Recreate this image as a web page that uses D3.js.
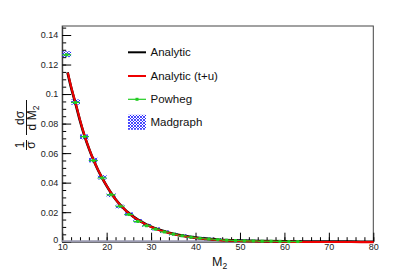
<!DOCTYPE html>
<html>
<head>
<meta charset="utf-8">
<script src="https://cdn.jsdelivr.net/npm/d3@7"></script>
<style>
  body { margin: 0; background: #fff; }
  svg { display: block; font-family: "Liberation Sans", Arial, sans-serif; }
</style>
</head>
<body>
<svg id="chart" width="415" height="270"></svg>
<script>
// bin centres (width 2) for the MC samples
var binCenters = [11, 13, 15, 17, 19, 21, 23, 25, 27, 29, 31, 33, 35, 37, 39, 41, 43, 45, 47, 49, 51, 53, 55, 57, 59, 61, 63];
var madgraphVals = [0.1270, 0.0946, 0.0710, 0.0553, 0.0436, 0.0316, 0.0238, 0.0187, 0.0141, 0.0111, 0.0087, 0.0068, 0.0052, 0.0041, 0.0031, 0.0024, 0.0019, 0.0014, 0.0011, 0.0008, 0.0006, 0.0005, 0.0004, 0.0003, 0.0002, 0.0002, 0.0001];
var madgraphErr = [0.0013, 0.0011, 0.0010, 0.0009, 0.0008, 0.0007, 0.0006, 0.0005, 0.0005, 0.0004, 0.0004, 0.0003, 0.0003, 0.0003, 0.0002, 0.0002, 0.0002, 0.0002, 0.0001, 0.0001, 0.0001, 0.0001, 0.0001, 0.0001, 0.0001, 0.0001, 0.0001];
var powhegVals = [0.1266, 0.0943, 0.0712, 0.0550, 0.0432, 0.0318, 0.0240, 0.0184, 0.0137, 0.0108, 0.0085, 0.0066, 0.0051, 0.0040, 0.0030, 0.0023, 0.0018, 0.0014, 0.0010, 0.0008, 0.0006, 0.0005, 0.0003, 0.0003, 0.0002, 0.0001, 0.0001];

// analytic curve samples
var analyticM = [11.2, 12, 13, 14, 15, 16, 17, 18, 19, 20, 21, 22, 23, 24, 25, 26, 27, 28, 29, 30, 32, 34, 36, 38, 40, 42, 44, 46, 48, 50, 55, 60, 65, 70, 75, 80];
var analyticVals = [0.1147, 0.1045, 0.0935, 0.0820, 0.0718, 0.0632, 0.0556, 0.0489, 0.0431, 0.0378, 0.0330, 0.0288, 0.0252, 0.0221, 0.0194, 0.0170, 0.0150, 0.0132, 0.0116, 0.0102, 0.0079, 0.0061, 0.0047, 0.0036, 0.0028, 0.0021, 0.0016, 0.0012, 0.0009, 0.0007, 0.0004, 0.0002, 0.0001, 0.00005, 0.00002, 0.00001];

var xTicks = [10, 20, 30, 40, 50, 60, 70, 80];
var yTicks = [0, 0.02, 0.04, 0.06, 0.08, 0.1, 0.12, 0.14];
var yTickLabels = ["0", "0.02", "0.04", "0.06", "0.08", "0.1", "0.12", "0.14"];
var legendNames = ["Analytic", "Analytic (t+u)", "Powheg", "Madgraph"];

var svg = d3.select("#chart");

var x = d3.scaleLinear().domain([10, 80]).range([62.2, 373.3]);
var y = d3.scaleLinear().domain([0, 0.1461]).range([241.7, 26]);

// hatch pattern for madgraph
var defs = svg.append("defs");
var pat = defs.append("pattern")
    .attr("id", "hatch")
    .attr("patternUnits", "userSpaceOnUse")
    .attr("width", 3).attr("height", 3);
pat.append("path").attr("d", "M0,0 L3,3 M3,0 L0,3")
    .attr("stroke", "#1a1aff").attr("stroke-width", 0.8);

// frame
svg.append("rect")
    .attr("x", x(10)).attr("y", y(0.1461))
    .attr("width", x(80) - x(10)).attr("height", y(0) - y(0.1461))
    .attr("fill", "none").attr("stroke", "#444").attr("stroke-width", 1);

// minor ticks
svg.append("g")
    .attr("transform", "translate(0," + y(0) + ")")
    .call(d3.axisBottom(x).tickValues(d3.range(10, 81, 2)).tickSize(-4.5).tickFormat(""))
    .call(function(g){ g.select(".domain").remove(); });
svg.append("g")
    .attr("transform", "translate(" + x(10) + ",0)")
    .call(d3.axisLeft(y).tickValues(d3.range(0, 0.1451, 0.005)).tickSize(-4).tickFormat(""))
    .call(function(g){ g.select(".domain").remove(); });

// major ticks + labels
var xAxis = svg.append("g")
    .attr("transform", "translate(0," + y(0) + ")")
    .call(d3.axisBottom(x).tickValues(xTicks).tickSizeInner(-9).tickSizeOuter(0).tickPadding(2).tickFormat(d3.format("d")));
xAxis.selectAll("text").attr("font-size", 9).attr("fill", "#222").attr("font-family", "Liberation Sans, Arial");

var yAxis = svg.append("g")
    .attr("transform", "translate(" + x(10) + ",0)")
    .call(d3.axisLeft(y).tickValues(yTicks).tickSizeInner(-9).tickSizeOuter(0).tickPadding(4)
      .tickFormat(function(d, i){ return yTickLabels[i]; }));
yAxis.selectAll("text").attr("font-size", 9).attr("fill", "#222").attr("font-family", "Liberation Sans, Arial");
yAxis.selectAll(".tick").filter(function(d){ return d === 0; }).select("text").attr("dy", "0.05em");
svg.selectAll(".domain").attr("stroke", "#333");

// gray band along the bottom (near-zero bins)
svg.append("line")
    .attr("x1", x(10)).attr("x2", x(64))
    .attr("y1", y(0) - 0.5).attr("y2", y(0) - 0.5)
    .attr("stroke", "#9a9ab0").attr("stroke-width", 2);

// madgraph hatched error boxes
svg.append("g").selectAll("rect")
    .data(binCenters).enter().append("rect")
    .attr("x", function(d){ return x(d - 1); })
    .attr("width", function(d){ return x(d + 1) - x(d - 1); })
    .attr("y", function(d, i){ return y(madgraphVals[i] + madgraphErr[i]) - 1; })
    .attr("height", function(d, i){ return y(madgraphVals[i] - madgraphErr[i]) - y(madgraphVals[i] + madgraphErr[i]) + 2; })
    .attr("fill", "url(#hatch)");

// analytic curves (red t+u drawn on top of black)
var line = d3.line()
    .x(function(d){ return x(d[0]); })
    .y(function(d){ return y(d[1]); })
    .curve(d3.curveMonotoneX);
var curvePts = analyticM.map(function(m, i){ return [m, analyticVals[i]]; });

svg.append("path")
    .attr("d", line(curvePts))
    .attr("fill", "none").attr("stroke", "#000").attr("stroke-width", 2.6);
svg.append("path")
    .attr("d", line(curvePts))
    .attr("fill", "none").attr("stroke", "#ee0000").attr("stroke-width", 2.1)
    .attr("stroke-dasharray", null)
    .attr("transform", "translate(0.3,0.4)");

// powheg points
var pw = svg.append("g");
pw.selectAll("line")
    .data(binCenters).enter().append("line")
    .attr("x1", function(d){ return x(d - 1); })
    .attr("x2", function(d){ return x(d + 1); })
    .attr("y1", function(d, i){ return y(powhegVals[i]); })
    .attr("y2", function(d, i){ return y(powhegVals[i]); })
    .attr("stroke", "#22cc22").attr("stroke-width", 1.2);
pw.selectAll("rect")
    .data(binCenters).enter().append("rect")
    .attr("x", function(d){ return x(d) - 1.5; })
    .attr("y", function(d, i){ return y(powhegVals[i]) - 1.5; })
    .attr("width", 3).attr("height", 3)
    .attr("fill", "#22cc22");

// legend
var leg = svg.append("g");
var legY = [52.3, 76, 99.3, 122.3];
leg.selectAll("text")
    .data(legendNames).enter().append("text")
    .attr("x", 150.5)
    .attr("y", function(d, i){ return legY[i]; })
    .attr("dy", "0.35em")
    .attr("font-size", 11.5)
    .attr("fill", "#111")
    .text(function(d){ return d; });
leg.append("line").attr("x1", 128).attr("x2", 146).attr("y1", legY[0]).attr("y2", legY[0])
    .attr("stroke", "#000").attr("stroke-width", 2);
leg.append("line").attr("x1", 128).attr("x2", 146).attr("y1", legY[1]).attr("y2", legY[1])
    .attr("stroke", "#ee0000").attr("stroke-width", 2);
leg.append("line").attr("x1", 128).attr("x2", 146).attr("y1", legY[2]).attr("y2", legY[2])
    .attr("stroke", "#22cc22").attr("stroke-width", 1.2);
leg.append("rect").attr("x", 135.5).attr("y", legY[2] - 1.5).attr("width", 3).attr("height", 3)
    .attr("fill", "#22cc22");
leg.append("rect").attr("x", 128).attr("y", legY[3] - 7.5).attr("width", 18).attr("height", 15)
    .attr("fill", "url(#hatch)");

// x title
var xt = svg.append("text")
    .attr("x", 212).attr("y", 266)
    .attr("font-size", 12.5).attr("fill", "#111");
xt.append("tspan").text("M");
xt.append("tspan").attr("font-size", 8.5).attr("dy", 2.5).text("2");

// y title: 1/σ dσ/dM2, rotated
var yt = svg.append("g").attr("transform", "translate(26,124) rotate(-90)");
yt.append("text").attr("x", -21).attr("y", -2).attr("font-size", 12).attr("fill", "#111").attr("text-anchor", "middle").text("1");
yt.append("line").attr("x1", -26).attr("x2", -16).attr("y1", 0.5).attr("y2", 0.5).attr("stroke", "#111").attr("stroke-width", 1);
yt.append("text").attr("x", -21).attr("y", 9).attr("font-size", 12).attr("fill", "#111").attr("text-anchor", "middle").text("σ");
yt.append("text").attr("x", 6).attr("y", -2).attr("font-size", 12).attr("fill", "#111").attr("text-anchor", "middle").text("dσ");
yt.append("line").attr("x1", -11).attr("x2", 24).attr("y1", 0.5).attr("y2", 0.5).attr("stroke", "#111").attr("stroke-width", 1);
var den = yt.append("text").attr("x", 6).attr("y", 10).attr("font-size", 12).attr("fill", "#111").attr("text-anchor", "middle");
den.append("tspan").text("d M");
den.append("tspan").attr("font-size", 8.5).attr("dy", 2.5).text("2");
</script>
</body>
</html>
